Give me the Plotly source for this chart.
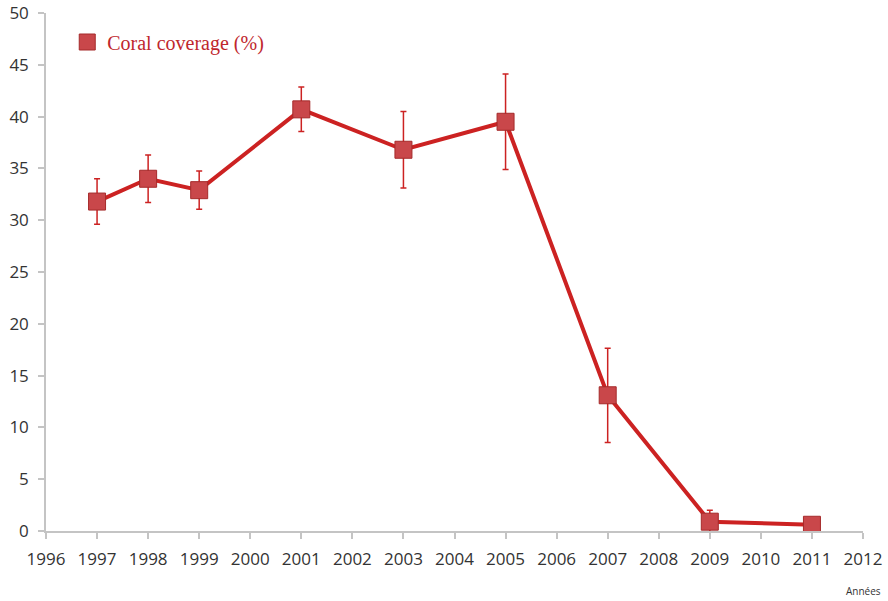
import plotly.graph_objects as go

# Survey years and mean coral coverage (%) with standard deviation
years = [1997, 1998, 1999, 2001, 2003, 2005, 2007, 2009, 2011]
coverage = [31.8, 34.0, 32.9, 40.7, 36.8, 39.5, 13.1, 0.9, 0.6]
error = [2.2, 2.3, 1.85, 2.15, 3.7, 4.6, 4.55, 1.1, 0.0]

x_ticks = list(range(1996, 2013))
y_ticks = list(range(0, 51, 5))

line_red = "#cc2222"
marker_fill = "#c9474a"
marker_edge = "#a52a2a"

fig = go.Figure()

fig.add_trace(go.Scatter(
    x=years, y=coverage,
    mode="lines+markers",
    line=dict(color=line_red, width=4),
    marker=dict(symbol="square", size=17, color=marker_fill,
                line=dict(color=marker_edge, width=1)),
    error_y=dict(type="data", array=error, visible=True,
                 color=line_red, thickness=1.5, width=3),
    showlegend=False,
))

# Legend entry: square marker only
fig.add_trace(go.Scatter(
    x=[None], y=[None],
    mode="markers",
    name="Coral coverage (%)",
    marker=dict(symbol="square", size=17, color=marker_fill,
                line=dict(color=marker_edge, width=1)),
))

axis_gray = "#c4c4c4"
tick_font = dict(family="Open Sans, Liberation Sans, sans-serif", size=17, color="#333333")

fig.update_layout(
    width=888, height=601,
    margin=dict(l=46, r=25, t=13, b=70, autoexpand=False),
    paper_bgcolor="white", plot_bgcolor="white",
    xaxis=dict(
        range=[1996, 2012], tickvals=x_ticks,
        showline=True, linecolor=axis_gray, linewidth=1.5,
        ticks="outside", ticklen=6, tickcolor=axis_gray, tickwidth=1.5,
        showgrid=False, zeroline=False, tickfont=tick_font,
        ticklabelstandoff=6, automargin=False,
    ),
    yaxis=dict(
        range=[0, 50], tickvals=y_ticks,
        showline=True, linecolor=axis_gray, linewidth=1.5,
        ticks="outside", ticklen=6, tickcolor=axis_gray, tickwidth=1.5,
        showgrid=False, zeroline=False, tickfont=tick_font,
        ticklabelstandoff=6, automargin=False,
    ),
    legend=dict(
        x=0.026, y=0.944, xanchor="left", yanchor="middle",
        bgcolor="rgba(0,0,0,0)",
        font=dict(family="Liberation Serif, Times New Roman, serif", size=20, color="#c0272d"),
        itemsizing="trace",
    ),
    showlegend=True,
)

fig.add_annotation(
    text="Années", xref="paper", yref="paper",
    x=1.0, y=-0.115, xanchor="center", yanchor="middle",
    showarrow=False,
    font=dict(family="Open Sans, Liberation Sans, sans-serif", size=10, color="#333333"),
)

fig.write_html("out.html")
